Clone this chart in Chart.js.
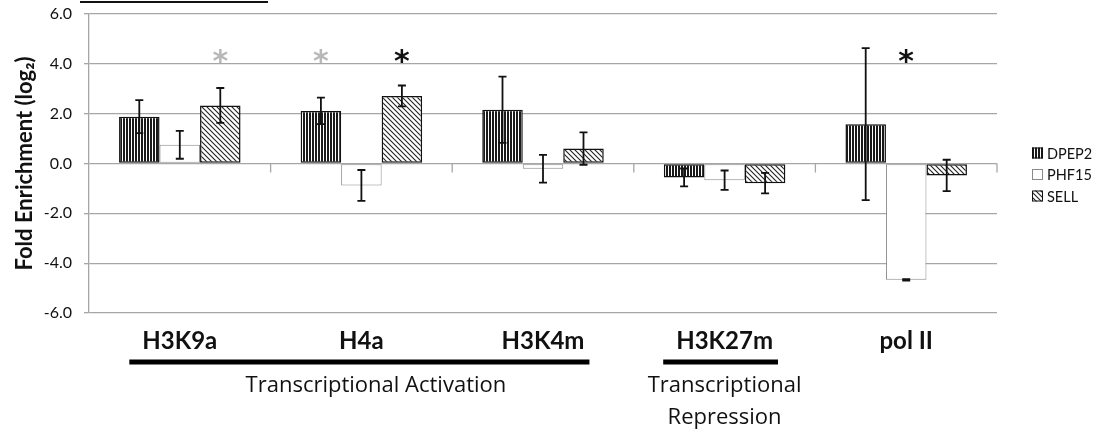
<!DOCTYPE html>
<html lang="en">
  <head>
    <meta charset="UTF-8" />
    <title>Fold Enrichment</title>
    <script src="https://cdn.jsdelivr.net/npm/chart.js"></script>
    <style>
      html,
      body {
        margin: 0;
        padding: 0;
        background: #fff;
      }
      .chart-box {
        width: 1110px;
        height: 432px;
      }
    </style>
  </head>
  <body>
    <div class="chart-box"><canvas id="chart"></canvas></div>

    <script>
      const categories = ["H3K9a", "H4a", "H3K4m", "H3K27m", "pol II"];
      const dpep2 = [1.88, 2.11, 2.16, -0.56, 1.58];
      const dpep2Err = [0.66, 0.53, 1.33, 0.36, 3.05];
      const phf15 = [0.75, -0.88, -0.21, -0.67, -4.67];
      const phf15Err = [0.56, 0.62, 0.56, 0.39, 0.03];
      const sell = [2.33, 2.71, 0.6, -0.79, -0.48];
      const sellErr = [0.7, 0.42, 0.65, 0.41, 0.63];

      // significance stars per bar ("" = none)
      const starLevel = 4.3;
      const dpep2Stars = ["", "gray", "", "", ""];
      const phf15Stars = ["", "", "", "", "black"];
      const sellStars = ["gray", "black", "", "", ""];

      // groups of categories under the axis
      const groups = [
        { from: 0, to: 2, at: 1.08, text: ["Transcriptional Activation"] },
        { from: 3, to: 3, at: 3, text: ["Transcriptional", "Repression"] },
      ];

      const FONT = "Lato, 'Open Sans', sans-serif";
      const TEXT = "#111";

      function makePattern(kind) {
        const c = document.createElement("canvas");
        const g = c.getContext("2d");
        if (kind === "vertical") {
          c.width = 3;
          c.height = 3;
          g.fillStyle = "#fff";
          g.fillRect(0, 0, 3, 3);
          g.fillStyle = "#1a1a1a";
          g.fillRect(0, 0, 2, 3);
        } else {
          c.width = 5;
          c.height = 5;
          g.fillStyle = "#fff";
          g.fillRect(0, 0, 5, 5);
          g.strokeStyle = "#222";
          g.lineWidth = 1.1;
          g.beginPath();
          g.moveTo(-1, -1);
          g.lineTo(6, 6);
          g.moveTo(-1, 4);
          g.lineTo(1, 6);
          g.moveTo(4, -1);
          g.lineTo(6, 1);
          g.stroke();
        }
        return g.createPattern(c, "repeat");
      }

      const vertPat = makePattern("vertical");
      const diagPat = makePattern("diagonal");

      const series = [
        { label: "DPEP2", data: dpep2, err: dpep2Err, stars: dpep2Stars, fill: vertPat, border: "#111", bw: 1.5 },
        { label: "PHF15", data: phf15, err: phf15Err, stars: phf15Stars, fill: "#fff", border: "#8a8a8a", bw: 1 },
        { label: "SELL", data: sell, err: sellErr, stars: sellStars, fill: diagPat, border: "#111", bw: 1.5 },
      ];

      const extras = {
        id: "extras",
        afterDatasetsDraw(chart) {
          const ctx = chart.ctx;
          const x = chart.scales.x;
          const y = chart.scales.y;
          const area = chart.chartArea;
          ctx.save();

          // tick marks on the zero line between categories
          ctx.strokeStyle = "#a6a6a6";
          ctx.lineWidth = 1.3;
          const y0 = y.getPixelForValue(0);
          for (let i = 0; i < categories.length; i++) {
            const px = x.getPixelForValue(i + 0.5);
            ctx.beginPath();
            ctx.moveTo(px, y0);
            ctx.lineTo(px, y0 + 9);
            ctx.stroke();
          }

          // error bars
          ctx.strokeStyle = "#111";
          ctx.lineWidth = 1.8;
          series.forEach((s, i) => {
            const meta = chart.getDatasetMeta(i);
            meta.data.forEach((bar, j) => {
              const top = y.getPixelForValue(s.data[j] + s.err[j]);
              const bot = y.getPixelForValue(s.data[j] - s.err[j]);
              ctx.beginPath();
              ctx.moveTo(bar.x, top);
              ctx.lineTo(bar.x, bot);
              ctx.moveTo(bar.x - 4, top);
              ctx.lineTo(bar.x + 4, top);
              ctx.moveTo(bar.x - 4, bot);
              ctx.lineTo(bar.x + 4, bot);
              ctx.stroke();
            });
          });

          // stars
          ctx.font = "bold 30px 'DejaVu Sans', sans-serif";
          ctx.textAlign = "center";
          ctx.textBaseline = "middle";
          series.forEach((s, i) => {
            const meta = chart.getDatasetMeta(i);
            s.stars.forEach((c, j) => {
              if (!c) return;
              ctx.fillStyle = c === "gray" ? "#b8b8b8" : "#111";
              ctx.fillText("*", meta.data[j].x, y.getPixelForValue(starLevel) + 7);
            });
          });

          // group underlines and captions
          ctx.font = "bold 24px " + FONT;
          const lineY = area.bottom + 49;
          groups.forEach((gr) => {
            const l = x.getPixelForValue(gr.from) - ctx.measureText(categories[gr.from]).width / 2 - 13;
            const r = x.getPixelForValue(gr.to) + ctx.measureText(categories[gr.to]).width / 2 + 5;
            ctx.fillStyle = "#000";
            ctx.fillRect(l, lineY - 2.5, r - l, 5);
          });
          ctx.font = "22px 'Open Sans', sans-serif";
          ctx.fillStyle = TEXT;
          groups.forEach((gr) => {
            gr.text.forEach((t, k) => {
              ctx.fillText(t, x.getPixelForValue(gr.at), area.bottom + 73 + k * 32);
            });
          });

          // cropped heading underline at the very top
          ctx.fillStyle = "#111";
          ctx.fillRect(area.left - 9, 1, 188, 2);

          // legend
          ctx.font = "14.5px " + FONT;
          ctx.textAlign = "left";
          series.forEach((s, i) => {
            const ly = area.top + 139 + i * 21.5;
            const lx = area.right + 35;
            ctx.fillStyle = s.fill;
            ctx.fillRect(lx, ly - 5.5, 11, 11);
            ctx.strokeStyle = s.label === "PHF15" ? "#8a8a8a" : "#111";
            ctx.lineWidth = 1;
            ctx.strokeRect(lx + 0.5, ly - 5, 10, 10);
            ctx.fillStyle = TEXT;
            ctx.fillText(s.label, lx + 15, ly + 1);
          });
          ctx.restore();
        },
      };

      new Chart(document.getElementById("chart"), {
        type: "bar",
        data: {
          labels: categories,
          datasets: series.map((s) => ({
            label: s.label,
            data: s.data,
            backgroundColor: s.fill,
            borderColor: s.border,
            borderWidth: s.bw,
            borderSkipped: false,
            categoryPercentage: 0.669,
            barPercentage: 1,
          })),
        },
        options: {
          responsive: true,
          maintainAspectRatio: false,
          animation: false,
          layout: { padding: { top: 14, right: 113, bottom: 79, left: 0 } },
          plugins: { legend: { display: false }, tooltip: { enabled: false } },
          scales: {
            x: {
              grid: { display: false, drawTicks: false },
              border: { display: false },
              ticks: {
                color: TEXT,
                padding: 14,
                font: { family: FONT, size: 24, weight: "bold" },
              },
              afterFit(scale) {
                scale.height = 40;
              },
            },
            y: {
              min: -6,
              max: 6,
              grid: { color: "#a6a6a6", lineWidth: 1.3, tickLength: 5 },
              border: { color: "#a6a6a6", width: 1.3 },
              ticks: {
                stepSize: 2,
                padding: 12,
                color: TEXT,
                font: { family: FONT, size: 16 },
                callback: (v) => v.toFixed(1),
              },
              title: {
                display: true,
                text: "Fold Enrichment (log\u2082)",
                color: TEXT,
                padding: { top: 12, bottom: 0 },
                font: { family: FONT, size: 22, weight: "bold" },
              },
              afterFit(scale) {
                scale.width = 89;
                scale.paddingTop = 0;
                scale.paddingBottom = 0;
              },
            },
          },
        },
        plugins: [extras],
      });
    </script>
  </body>
</html>
